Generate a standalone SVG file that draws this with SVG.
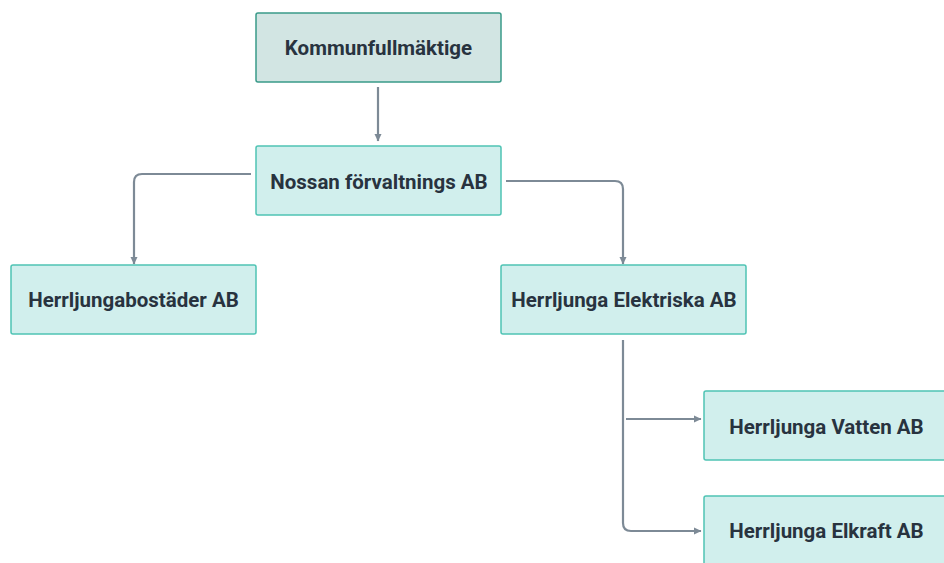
<svg xmlns="http://www.w3.org/2000/svg" width="944" height="563" viewBox="0 0 944 563">
<defs>
<marker id="ah" viewBox="0 0 8 8" refX="7" refY="4" markerWidth="8" markerHeight="8" markerUnits="userSpaceOnUse" orient="auto">
<path d="M0,0.5 L7.5,4 L0,7.5 z" fill="#7d8a96"/>
</marker>
<style>
.box{fill:#d1efed;stroke:#4fc4b4;stroke-width:1.5}
.top{fill:#d2e5e3;stroke:#3a9a89;stroke-width:1.5}
.lbl{font-family:Roboto,"Liberation Sans",sans-serif;font-weight:700;font-size:20.5px;fill:#28333f;text-anchor:middle;dominant-baseline:central}
.edge{fill:none;stroke:#7d8a96;stroke-width:2.2;marker-end:url(#ah)}
</style>
</defs>
<rect width="944" height="563" fill="#ffffff"/>
<g id="connectors">
<path class="edge" d="M378,87 L378,141"/>
<path class="edge" d="M251,174 L142,174 Q134,174 134,182 L134,264"/>
<path class="edge" d="M506,181 L615,181 Q623,181 623,189 L623,264"/>
<path class="edge" d="M623,340 L623,523 Q623,531 631,531 L701,531"/>
<path class="edge" d="M626,419 L701,419"/>
</g>
<g id="kommunfullmaktige">
<rect class="top" x="256" y="13" width="245" height="69" rx="2"/>
<text class="lbl" x="378.5" y="47.5">Kommunfullmäktige</text>
</g>
<g id="nossan">
<rect class="box" x="256" y="146" width="245" height="69" rx="2"/>
<text class="lbl" x="379" y="181.5">Nossan förvaltnings AB</text>
</g>
<g id="bostader">
<rect class="box" x="11" y="265" width="245" height="69" rx="2"/>
<text class="lbl" x="133.5" y="300">Herrljungabostäder AB</text>
</g>
<g id="elektriska">
<rect class="box" x="501" y="265" width="245" height="69" rx="2"/>
<text class="lbl" x="624" y="300">Herrljunga Elektriska AB</text>
</g>
<g id="vatten">
<rect class="box" x="704" y="391" width="245" height="69" rx="2"/>
<text class="lbl" x="826.5" y="426.5">Herrljunga Vatten AB</text>
</g>
<g id="elkraft">
<rect class="box" x="704" y="496" width="245" height="69" rx="2"/>
<text class="lbl" x="826.5" y="531">Herrljunga Elkraft AB</text>
</g>
</svg>
